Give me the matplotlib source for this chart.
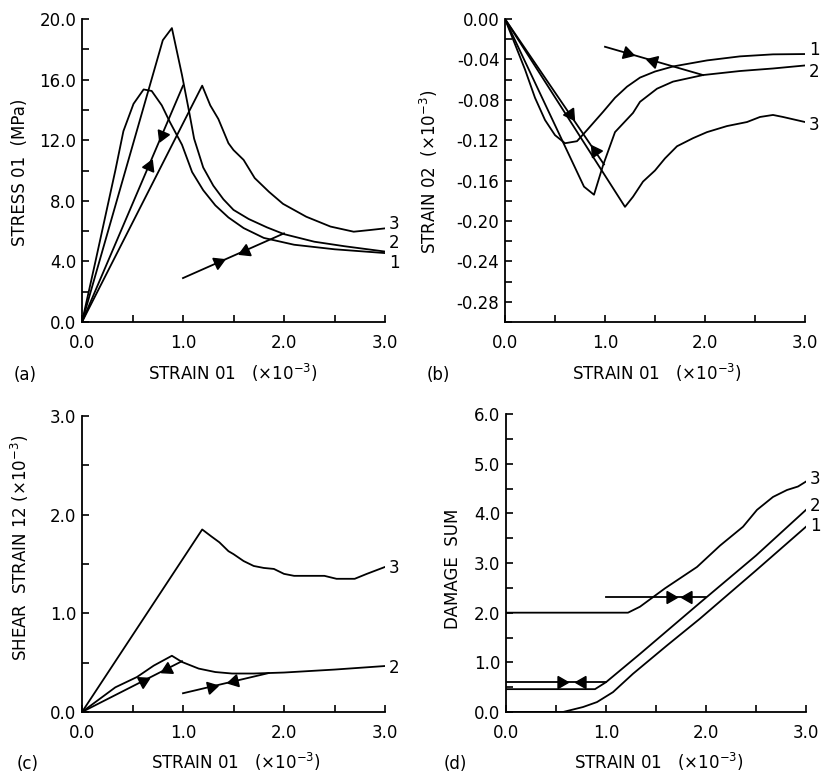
import numpy as np
import matplotlib
matplotlib.use('Agg')
import matplotlib.pyplot as plt

plt.rcParams['font.family'] = ['DejaVu Sans']
plt.rcParams['mathtext.fontset'] = 'dejavusans'

# strain 01 (x1e-3) is the common x axis of all four panels

# (a) stress 01 (MPa)
a1_x = [0, 0.13, 0.33, 0.41, 0.51, 0.61, 0.69, 0.79, 0.87, 0.99, 1.09, 1.2, 1.32, 1.45, 1.6, 1.8, 2.1, 2.5, 3.0]
a1_y = [0, 3.9, 10.0, 12.6, 14.4, 15.35, 15.25, 14.3, 13.2, 11.7, 9.9, 8.7, 7.7, 6.9, 6.2, 5.55, 5.1, 4.8, 4.55]
a2_x = [0, 0.80, 0.89, 0.99, 1.06, 1.11, 1.2, 1.3, 1.4, 1.5, 1.65, 1.83, 2.0, 2.3, 2.6, 3.0]
a2_y = [0, 18.6, 19.4, 16.3, 13.9, 12.1, 10.2, 9.0, 8.1, 7.4, 6.8, 6.25, 5.8, 5.3, 5.0, 4.65]
a3_x = [0, 1.19, 1.27, 1.35, 1.45, 1.5, 1.6, 1.71, 1.85, 1.99, 2.22, 2.46, 2.69, 2.85, 3.0]
a3_y = [0, 15.6, 14.3, 13.4, 11.8, 11.35, 10.7, 9.5, 8.6, 7.8, 6.95, 6.3, 5.96, 6.07, 6.18]
a_path1_x = [0, 1.0]
a_path1_y = [0, 15.6]
a_path2_x = [1.0, 2.0]
a_path2_y = [2.9, 5.85]
a_arrows1 = [0.66, 0.79]
a_arrows2 = [1.35, 1.61]

# (b) strain 02 (x1e-3)
b1_x = [0, 0.1, 0.2, 0.3, 0.4, 0.5, 0.6, 0.72, 0.82, 0.98, 1.1, 1.22, 1.35, 1.5, 1.68, 2.02, 2.35, 2.68, 3.0]
b1_y = [0, -0.025, -0.05, -0.078, -0.100, -0.115, -0.123, -0.121, -0.110, -0.092, -0.078, -0.067,
        -0.058, -0.052, -0.047, -0.041, -0.037, -0.035, -0.0347]
b2_x = [0, 0.79, 0.89, 0.98, 1.1, 1.28, 1.35, 1.52, 1.68, 1.98, 2.35, 2.68, 3.0]
b2_y = [0, -0.166, -0.174, -0.145, -0.112, -0.093, -0.082, -0.069, -0.062, -0.0555, -0.0515, -0.049, -0.046]
b3_x = [0, 1.2, 1.28, 1.38, 1.5, 1.6, 1.72, 1.88, 2.02, 2.22, 2.42, 2.55, 2.68, 2.78, 3.0]
b3_y = [0, -0.186, -0.176, -0.161, -0.150, -0.138, -0.126, -0.118, -0.112, -0.106, -0.102, -0.097,
        -0.095, -0.097, -0.102]
b_path1_x = [0, 0.99]
b_path1_y = [0, -0.144]
b_path2_x = [1.0, 1.98]
b_path2_y = [-0.0275, -0.0555]
b_arrows1 = [0.65, 0.90]
b_arrows2 = [1.22, 1.48]

# (c) shear strain 12 (x1e-3)
c2_x = [0, 0.33, 0.545, 0.71, 0.89, 0.99, 1.155, 1.32, 1.485, 1.7, 2.0, 2.5, 3.0]
c2_y = [0, 0.25, 0.355, 0.47, 0.57, 0.507, 0.44, 0.405, 0.39, 0.39, 0.40, 0.43, 0.466]
c3_x = [0, 1.19, 1.28, 1.36, 1.45, 1.5, 1.6, 1.7, 1.8, 1.9, 2.0, 2.1, 2.3, 2.4, 2.52, 2.7, 2.82, 3.0]
c3_y = [0, 1.85, 1.78, 1.72, 1.63, 1.60, 1.53, 1.48, 1.46, 1.45, 1.40, 1.38, 1.38, 1.38, 1.35, 1.35, 1.40, 1.47]
c_path1_x = [0, 0.99]
c_path1_y = [0, 0.515]
c_path2_x = [1.0, 1.85]
c_path2_y = [0.19, 0.395]
c_arrows1 = [0.60, 0.84]
c_arrows2 = [1.28, 1.50]

# (d) damage sum
d1_x = [0, 0.57, 0.77, 0.91, 1.07, 1.27, 1.61, 1.94, 2.5, 3.0]
d1_y = [0, 0, 0.10, 0.20, 0.40, 0.77, 1.34, 1.88, 2.85, 3.73]
d2_x = [0, 0.89, 1.0, 1.34, 1.94, 2.5, 3.0]
d2_y = [0.46, 0.46, 0.6, 1.17, 2.2, 3.15, 4.07]
d3_x = [0, 1.22, 1.34, 1.59, 1.91, 2.14, 2.37, 2.51, 2.67, 2.81, 2.92, 3.0]
d3_y = [2.0, 2.0, 2.12, 2.49, 2.92, 3.35, 3.73, 4.07, 4.33, 4.47, 4.54, 4.64]
d_path1_x = [0, 1.0]
d_path1_y = [0.6, 0.6]
d_path2_x = [1.0, 2.0]
d_path2_y = [2.31, 2.31]
d_arrows1 = [0.55, 0.76]
d_arrows2 = [1.64, 1.82]

x_ticks = [0, 1, 2, 3]
x_ticklabels = ['0.0', '1.0', '2.0', '3.0']
x_minor = [0.5, 1.5, 2.5]

LW = 1.3
FS = 12
W, H = 822, 778


def px_axes(left, top, right, bottom):
    return fig.add_axes([left / W, 1 - bottom / H, (right - left) / W, (bottom - top) / H])


def style(ax, ylim, yticks, yticklabels, yminor):
    ax.set_xlim(0, 3.0)
    ax.set_ylim(*ylim)
    for s in ['top', 'right']:
        ax.spines[s].set_visible(False)
    for s in ['left', 'bottom']:
        ax.spines[s].set_linewidth(1.3)
    ax.set_xticks(x_ticks)
    ax.set_xticklabels(x_ticklabels)
    ax.set_xticks(x_minor, minor=True)
    ax.set_yticks(yticks)
    ax.set_yticklabels(yticklabels)
    ax.set_yticks(yminor, minor=True)
    ax.tick_params(which='both', direction='in', length=5, width=1.2, labelsize=FS)
    ax.tick_params(axis='x', which='both', pad=9)
    ax.tick_params(axis='y', which='both', pad=4)


def path_with_arrows(ax, px, py, arrows):
    ax.plot(px, py, color='black', lw=LW, solid_joinstyle='miter')
    p0 = ax.transData.transform((px[0], py[0]))
    p1 = ax.transData.transform((px[-1], py[-1]))
    ang = np.degrees(np.arctan2(p1[1] - p0[1], p1[0] - p0[0]))
    # pair of arrowheads pointing toward each other
    for i, xa in enumerate(arrows):
        ya = np.interp(xa, px, py) if px[0] < px[-1] else py[0]
        rot = ang - 90 if i == 0 else ang + 90
        ax.plot([xa], [ya], marker=(3, 0, rot), markersize=10, color='black', mec='black', lw=0)


def curve(ax, x, y):
    ax.plot(x, y, color='black', lw=LW)


fig = plt.figure(figsize=(8.22, 7.78), dpi=100)

# (a)
ax = px_axes(82, 19, 385, 322)
style(ax, (0, 20), [0, 4, 8, 12, 16, 20], ['0.0', '4.0', '8.0', '12.0', '16.0', '20.0'],
      [2, 6, 10, 14, 18])
curve(ax, a1_x, a1_y)
curve(ax, a2_x, a2_y)
curve(ax, a3_x, a3_y)
path_with_arrows(ax, a_path1_x, a_path1_y, a_arrows1)
path_with_arrows(ax, a_path2_x, a_path2_y, a_arrows2)
for lab, yy in [('1', 3.9), ('2', 5.2), ('3', 6.5)]:
    ax.text(3.04, yy, lab, fontsize=FS, va='center', ha='left', clip_on=False)
fig.text(20 / W, 1 - 172 / H, 'STRESS 01  (MPa)', rotation=90, fontsize=FS, ha='center', va='center')
fig.text(233 / W, 1 - 373 / H, r'STRAIN 01   ($\times10^{-3}$)', fontsize=FS, ha='center', va='center')
fig.text(25 / W, 1 - 375 / H, '(a)', fontsize=FS, ha='center', va='center')

# (b)
ax = px_axes(505, 19, 805, 322)
style(ax, (-0.30, 0), [-0.28, -0.24, -0.20, -0.16, -0.12, -0.08, -0.04, 0.0],
      ['-0.28', '-0.24', '-0.20', '-0.16', '-0.12', '-0.08', '-0.04', '0.00'],
      [-0.30, -0.26, -0.22, -0.18, -0.14, -0.10, -0.06, -0.02])
curve(ax, b1_x, b1_y)
curve(ax, b2_x, b2_y)
curve(ax, b3_x, b3_y)
path_with_arrows(ax, b_path1_x, b_path1_y, b_arrows1)
path_with_arrows(ax, b_path2_x, b_path2_y, b_arrows2)
for lab, yy in [('1', -0.031), ('2', -0.052), ('3', -0.105)]:
    ax.text(3.04, yy, lab, fontsize=FS, va='center', ha='left', clip_on=False)
fig.text(429 / W, 1 - 172 / H, r'STRAIN 02  ($\times10^{-3}$)', rotation=90, fontsize=FS,
         ha='center', va='center')
fig.text(657 / W, 1 - 373 / H, r'STRAIN 01   ($\times10^{-3}$)', fontsize=FS, ha='center', va='center')
fig.text(438 / W, 1 - 375 / H, '(b)', fontsize=FS, ha='center', va='center')

# (c)
ax = px_axes(82, 416, 385, 712)
style(ax, (0, 3.0), [0, 1, 2, 3], ['0.0', '1.0', '2.0', '3.0'], [0.5, 1.5, 2.5])
curve(ax, c2_x, c2_y)
curve(ax, c3_x, c3_y)
path_with_arrows(ax, c_path1_x, c_path1_y, c_arrows1)
path_with_arrows(ax, c_path2_x, c_path2_y, c_arrows2)
for lab, yy in [('2', 0.45), ('3', 1.46)]:
    ax.text(3.04, yy, lab, fontsize=FS, va='center', ha='left', clip_on=False)
fig.text(20 / W, 1 - 548 / H, r'SHEAR  STRAIN 12 ($\times10^{-3}$)', rotation=90, fontsize=FS,
         ha='center', va='center')
fig.text(236 / W, 1 - 762 / H, r'STRAIN 01   ($\times10^{-3}$)', fontsize=FS, ha='center', va='center')
fig.text(28 / W, 1 - 764 / H, '(c)', fontsize=FS, ha='center', va='center')

# (d)
ax = px_axes(506, 414, 806, 712)
style(ax, (0, 6.0), [0, 1, 2, 3, 4, 5, 6], ['0.0', '1.0', '2.0', '3.0', '4.0', '5.0', '6.0'],
      [0.5, 1.5, 2.5, 3.5, 4.5, 5.5])
curve(ax, d1_x, d1_y)
curve(ax, d2_x, d2_y)
curve(ax, d3_x, d3_y)
path_with_arrows(ax, d_path1_x, d_path1_y, d_arrows1)
path_with_arrows(ax, d_path2_x, d_path2_y, d_arrows2)
for lab, yy in [('1', 3.75), ('2', 4.15), ('3', 4.69)]:
    ax.text(3.04, yy, lab, fontsize=FS, va='center', ha='left', clip_on=False)
fig.text(453 / W, 1 - 569 / H, 'DAMAGE  SUM', rotation=90, fontsize=FS, ha='center', va='center')
fig.text(659 / W, 1 - 762 / H, r'STRAIN 01   ($\times10^{-3}$)', fontsize=FS, ha='center', va='center')
fig.text(455 / W, 1 - 764 / H, '(d)', fontsize=FS, ha='center', va='center')

fig.savefig('out.png', dpi=100)
